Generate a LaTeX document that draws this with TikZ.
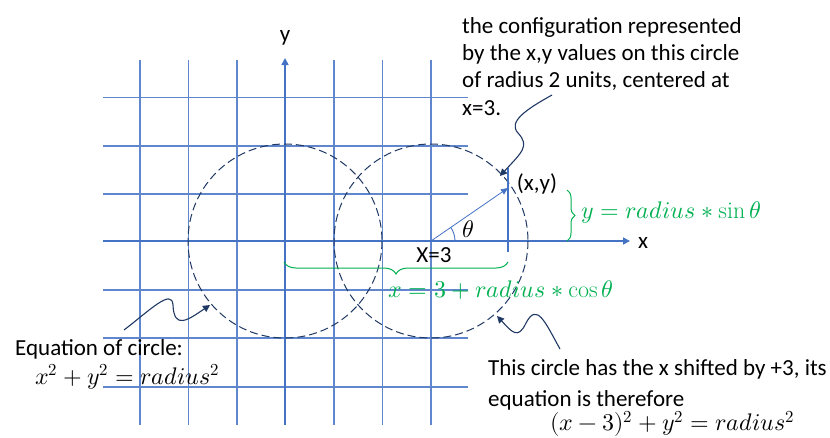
\documentclass[tikz,border=0pt]{standalone}
\usepackage{fontspec}
\usepackage{unicode-math}
\setmainfont{Carlito}
\setmathfont{Latin Modern Math}
\setmathrm{Latin Modern Roman}
\usetikzlibrary{arrows.meta,decorations.pathreplacing}
\definecolor{gridblue}{HTML}{4472C4}
\definecolor{navy}{HTML}{203864}
\definecolor{eqgreen}{HTML}{00B050}
\begin{document}
\begin{tikzpicture}[x=1pt,y=-1pt,
  txt/.style={inner sep=0pt,font=\fontsize{23}{27.3}\selectfont,text=black},
  mth/.style={inner sep=0pt,font=\fontsize{24}{28}\selectfont},
  gridline/.style={draw=gridblue!85,line width=1.3pt},
  axisline/.style={draw=gridblue,line width=1.6pt,-{Triangle[width=7pt,length=7pt]}},
  dashcircle/.style={draw=navy,line width=1pt,dash pattern=on 8pt off 4pt},
  wavy/.style={draw=navy,line width=1.1pt,-{Triangle[width=7pt,length=7pt]}},
  gbrace/.style={draw=eqgreen,line width=1pt,decorate,decoration={brace,amplitude=#1}}
]
\useasboundingbox (0,0) rectangle (830,437);
% grid
\foreach \x in {140,188.5,237,334,382.5,431} \draw[gridline] (\x,60) -- (\x,425);
\foreach \y in {97.5,146,194,290,338,387} \draw[gridline] (103,\y) -- (468,\y);
% key points
\coordinate (O) at (285,241);
\coordinate (C) at (431,241);
\coordinate (P) at (508,188);
\coordinate (xend) at (630,241);
\coordinate (xstart) at (103,241);
\coordinate (ystart) at (285,425);
\coordinate (yend) at (285,58);
% axes
\draw[axisline] (xstart) -- (xend);
\draw[axisline] (ystart) -- (yend);
\node[txt] (xlabel) at (643,243) {x};
\node[txt] (ylabel) at (285,38) {y};
% circles
\draw[dashcircle] (O) circle (97);
\draw[dashcircle] (C) circle (97);
% projection and radius
\coordinate (Ptop) at (508,168);
\coordinate (Pbot) at (508,252);
\draw[draw=gridblue,line width=1.2pt] (Ptop) -- (Pbot);
\draw[draw=gridblue,line width=0.8pt,-{Triangle[width=6pt,length=7pt]}] (C) -- (P);
\draw[draw=gridblue,line width=0.9pt] ([shift={(24,0)}]C) arc[start angle=0,end angle=-34.5,radius=24];
\node[mth] (theta) at (468,229) {$\theta$};
\node[txt] (xeq3) at (434,255) {X=3};
\node[txt] (xy) at (537,184) {(x,y)};
% braces
\coordinate (bt) at (567,190);
\coordinate (bb) at (567,241);
\draw[gbrace=8pt] (bt) -- (bb);
\node[mth,text=eqgreen,anchor=west] (ylab) at (581,212) {$y=radius\ast\sin\theta$};
\coordinate (bl) at (284,262);
\coordinate (br) at (508,262);
\draw[gbrace=12pt] (br) -- (bl);
\node[mth,text=eqgreen] (xlab) at (501,290) {$x=3+radius\ast\cos\theta$};
% texts
\node[txt,anchor=north west,align=left] (cfg) at (462,17) {the configuration represented\\by the x,y values on this circle\\of radius 2 units, centered at\\x=3.};
\node[txt,anchor=base west] (eqc) at (15,355) {Equation of circle:};
\node[mth,anchor=base west] (eqm) at (35,384) {$x^2+y^2=radius^2$};
\node[txt,anchor=north west,align=left] (shift) at (488,359) {This circle has the x shifted by +3, its\\[4pt]equation is therefore\\[-3pt]\hspace*{62pt}{\fontsize{24}{28}\selectfont$(x-3)^2+y^2=radius^2$}};
% wavy arrows
\coordinate (w1s) at (552,95);
\coordinate (w1e) at (500,176);
\draw[wavy] (w1s) .. controls (525,110) and (508,122) .. (518,133) .. controls (530,146) and (522,152) .. (w1e);
\coordinate (w2s) at (124,330);
\coordinate (w2e) at (210,305);
\draw[wavy] (w2s) .. controls (150,310) and (172,288) .. (173,305) .. controls (174,330) and (188,320) .. (w2e);
\coordinate (w3s) at (560,349);
\coordinate (w3e) at (497,316);
\draw[wavy] (w3s) .. controls (545,322) and (537,302) .. (526,323) .. controls (518,340) and (512,332) .. (w3e);
\end{tikzpicture}
\end{document}
